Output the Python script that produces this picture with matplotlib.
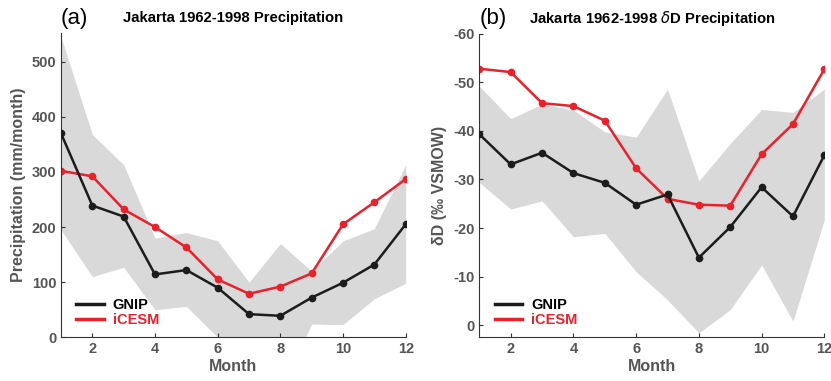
import matplotlib.pyplot as plt
from matplotlib.lines import Line2D
import numpy as np

months = np.arange(1, 13)

# (a) precipitation, mm/month
gnip_precip = [370, 239, 219, 114, 122, 90, 42, 39, 72, 99, 132, 205]
icesm_precip = [302, 292, 232, 200, 163, 105, 79, 92, 116, 205, 245, 287]
precip_upper = [545, 368, 313, 180, 190, 175, 100, 170, 120, 175, 197, 313]
precip_lower = [195, 110, 127, 50, 56, 0, -40, -96, 24, 23, 70, 98]

# (b) dD of precipitation, permil VSMOW
gnip_dd = [-39.3, -33.1, -35.5, -31.3, -29.3, -24.8, -26.9, -13.9, -20.2, -28.4, -22.4, -35.0]
icesm_dd = [-52.8, -52.1, -45.7, -45.1, -42.1, -32.3, -26.0, -24.8, -24.6, -35.2, -41.4, -52.7]
dd_upper = [-49.2, -42.5, -45.5, -44.3, -39.8, -38.7, -48.6, -29.7, -37.4, -44.4, -43.8, -48.6]
dd_lower = [-29.4, -23.9, -25.6, -18.2, -18.9, -11.0, -5.2, 1.6, -3.2, -12.4, -0.8, -21.7]

plt.rcParams["font.family"] = ["Liberation Sans", "DejaVu Sans"]
plt.rcParams["mathtext.fontset"] = "dejavusans"
plt.rcParams["axes.unicode_minus"] = False

BLACK = "#1c1c1c"
RED = "#e8212b"
GREY = "#d9d9d9"
TICK = "#555555"


def style_axes(ax):
    for side in ["top", "right"]:
        ax.spines[side].set_visible(False)
    for side in ["left", "bottom"]:
        ax.spines[side].set_color("#333333")
        ax.spines[side].set_linewidth(0.8)
    ax.tick_params(direction="in", length=3, colors="#333333", labelcolor=TICK,
                   labelsize=10.5)
    for lab in ax.get_xticklabels() + ax.get_yticklabels():
        lab.set_fontweight("bold")
    ax.set_xlim(1, 12)
    ax.set_xticks([2, 4, 6, 8, 10, 12])
    ax.set_xlabel("Month", fontsize=11.5, fontweight="bold", color=TICK, labelpad=2)


def draw_panel(ax, gnip, icesm, lower, upper):
    ax.fill_between(months, lower, upper, color=GREY, linewidth=0, zorder=1)
    ax.plot(months, gnip, color=BLACK, marker="o", markersize=4.5, linewidth=1.8,
            zorder=3)
    ax.plot(months, icesm, color=RED, marker="o", markersize=4.5, linewidth=1.8,
            zorder=2)
    handles = [Line2D([], [], color=BLACK, linewidth=2.5),
               Line2D([], [], color=RED, linewidth=2.5)]
    leg = ax.legend(handles, ["GNIP", "iCESM"], loc="lower left", frameon=False,
                    handlelength=1.9, prop={"weight": "bold", "size": 10.5},
                    borderaxespad=0.3, labelspacing=0.1, handletextpad=0.6,
                    bbox_to_anchor=(0.015, 0.0))
    leg.get_texts()[1].set_color(RED)


fig = plt.figure(figsize=(8.31, 3.81), dpi=100)
ax1 = fig.add_axes([0.0734, 0.1147, 0.4148, 0.7987])
ax2 = fig.add_axes([0.5768, 0.1147, 0.4152, 0.7968])

draw_panel(ax1, gnip_precip, icesm_precip, precip_lower, precip_upper)
ax1.set_ylim(0, 552)
ax1.set_yticks([0, 100, 200, 300, 400, 500])
style_axes(ax1)
ax1.set_ylabel("Precipitation (mm/month)", fontsize=11.5, fontweight="bold",
               color=TICK, labelpad=4)
ax1.set_title("Jakarta 1962-1998 Precipitation", fontsize=10.7, fontweight="bold",
              pad=8)
fig.text(0.073, 0.952, "(a)", fontsize=16, va="center", ha="left")

draw_panel(ax2, gnip_dd, icesm_dd, dd_lower, dd_upper)
ax2.set_ylim(2.5, -60)
ax2.set_yticks([0, -10, -20, -30, -40, -50, -60])
style_axes(ax2)
ax2.set_ylabel("δD (‰ VSMOW)", fontsize=11.5, fontweight="bold",
               color=TICK, labelpad=4)
ax2.set_title("Jakarta 1962-1998 $\\delta$D Precipitation", fontsize=10.7,
              fontweight="bold", pad=8)
fig.text(0.577, 0.952, "(b)", fontsize=16, va="center", ha="left")

fig.savefig("out.png", dpi=100)
